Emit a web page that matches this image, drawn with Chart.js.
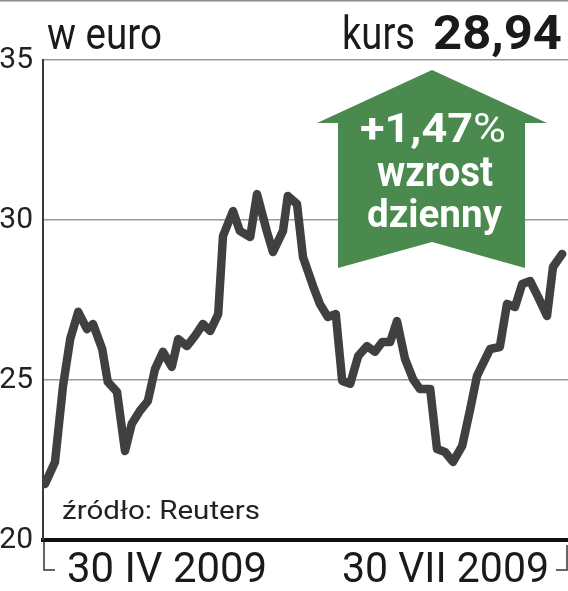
<!DOCTYPE html>
<html>
<head>
<meta charset="utf-8">
<script src="https://cdn.jsdelivr.net/npm/chart.js@4.4.1/dist/chart.umd.min.js"></script>
<style>
  html, body { margin: 0; padding: 0; background: #fff; }
  #wrap { position: relative; width: 568px; height: 591px; }
</style>
</head>
<body>
<div id="wrap"><canvas id="c" width="568" height="591"></canvas></div>
<script>
// ---- data ----
const days = [0.25, 1.5, 2.5, 3.4, 4.4, 5.5, 6.25, 7.4, 8.1, 9.25, 10.25, 11.1, 12.1, 13.1, 14, 15, 16.1, 16.9, 18, 19, 20, 20.9, 21.9, 22.5, 23.75, 24.6, 25.9, 26.75, 28, 28.75, 30, 30.6, 31.75, 32.5, 33.75, 34.6, 35.6, 36.6, 37.4, 38.4, 39.4, 40.5, 41.5, 42.4, 43.4, 44.25, 45.25, 46.25, 47.1, 48.4, 49.25, 50.25, 51.25, 52.4, 53.4, 54.25, 55.9, 57.1, 58, 59, 59.9, 60.9, 61.9, 63, 63.75, 64.9];
const prices = [21.75, 22.44, 24.81, 26.28, 27.13, 26.59, 26.75, 25.97, 24.94, 24.63, 22.78, 23.63, 24.03, 24.34, 25.34, 25.88, 25.41, 26.28, 26.06, 26.38, 26.75, 26.53, 27.06, 29.5, 30.28, 29.66, 29.47, 30.81, 29.63, 29.0, 29.66, 30.75, 30.5, 28.84, 27.94, 27.38, 26.97, 27.06, 24.97, 24.88, 25.75, 26.06, 25.88, 26.19, 26.19, 26.84, 25.66, 25.03, 24.72, 24.72, 22.84, 22.75, 22.44, 22.94, 24.09, 25.13, 25.97, 26.03, 27.38, 27.28, 28.0, 28.09, 27.59, 27.0, 28.53, 28.94];
const yTicks = [20, 25, 30, 35];
const xTickLabels = ['30 IV 2009', '30 VII 2009'];
const unitLabel = 'w euro';
const priceLabel = 'kurs';
const priceValue = '28,94';
const changeValue = '+1,47';
const changeLines = ['wzrost', 'dzienny'];
const sourceLabel = 'źródło: Reuters';

const points = days.map((d, i) => ({ x: d, y: prices[i] }));

function fitText(ctx, parts, x, y, width, align, color) {
  let total = 0;
  parts.forEach(p => { ctx.font = p.font; p.w = ctx.measureText(p.t).width; total += p.w; });
  const s = width / total;
  const x0 = align === 'center' ? x - width / 2 : (align === 'right' ? x - width : x);
  ctx.save();
  ctx.fillStyle = color;
  ctx.textAlign = 'left';
  ctx.textBaseline = 'alphabetic';
  ctx.translate(x0, y);
  ctx.scale(s, 1);
  let cx = 0;
  parts.forEach(p => { ctx.font = p.font; ctx.fillText(p.t, cx, 0); cx += p.w; });
  ctx.restore();
}

const decor = {
  id: 'decor',
  afterDatasetsDraw(chart) {
    const ctx = chart.ctx;
    // green arrow
    ctx.save();
    ctx.fillStyle = '#4a8a4e';
    ctx.beginPath();
    ctx.moveTo(317, 123);
    ctx.lineTo(432, 70);
    ctx.lineTo(547, 123);
    ctx.lineTo(525, 123);
    ctx.lineTo(525, 268);
    ctx.lineTo(432, 242);
    ctx.lineTo(338, 268);
    ctx.lineTo(338, 123);
    ctx.closePath();
    ctx.fill();
    ctx.restore();
    fitText(ctx, [{ t: changeValue, font: 'bold 40px Roboto' }, { t: '%', font: '40px Roboto' }], 433, 142, 146, 'center', '#fff');
    fitText(ctx, [{ t: changeLines[0], font: 'bold 43px Roboto' }], 435, 186, 116, 'center', '#fff');
    fitText(ctx, [{ t: changeLines[1], font: 'bold 38px Roboto' }], 434.5, 227, 135, 'center', '#fff');
  },
  afterDraw(chart) {
    const ctx = chart.ctx;
    const a = chart.chartArea;
    ctx.save();
    // top rule
    ctx.strokeStyle = '#8a8a8a';
    ctx.lineWidth = 1.5;
    ctx.beginPath(); ctx.moveTo(0, 0.75); ctx.lineTo(568, 0.75); ctx.stroke();
    // brackets under the axis
    ctx.strokeStyle = '#333';
    ctx.lineWidth = 1.5;
    ctx.beginPath();
    ctx.moveTo(a.left + 1, a.bottom + 2); ctx.lineTo(a.left + 1, a.bottom + 30); ctx.lineTo(a.left + 12, a.bottom + 30);
    ctx.stroke();
    ctx.beginPath();
    ctx.moveTo(a.right - 12, a.bottom + 30); ctx.lineTo(a.right - 1, a.bottom + 30); ctx.lineTo(a.right - 1, a.bottom + 5);
    ctx.stroke();
    ctx.restore();
    // header texts
    fitText(ctx, [{ t: unitLabel, font: '44px Roboto' }], 47, 49, 115, 'left', '#1a1a1a');
    fitText(ctx, [{ t: priceLabel, font: '47px Roboto' }], 342, 49, 73, 'left', '#1a1a1a');
    fitText(ctx, [{ t: priceValue, font: 'bold 48px Roboto' }], 433, 49, 129, 'left', '#1a1a1a');
    // source
    fitText(ctx, [{ t: sourceLabel, font: '25px Roboto' }], 62, 519, 198, 'left', '#222');
    // x labels
    fitText(ctx, [{ t: xTickLabels[0], font: '42px Roboto' }], a.left + 24, 582, 200, 'left', '#1a1a1a');
    fitText(ctx, [{ t: xTickLabels[1], font: '42px Roboto' }], a.right - 19, 582, 207, 'right', '#1a1a1a');
  }
};

new Chart(document.getElementById('c'), {
  type: 'line',
  data: {
    datasets: [{
      data: points,
      borderColor: '#404040',
      borderWidth: 8.5,
      borderJoinStyle: 'round',
      borderCapStyle: 'round',
      pointRadius: 0,
      tension: 0,
      fill: false
    }]
  },
  options: {
    responsive: false,
    animation: false,
    devicePixelRatio: 1,
    layout: { padding: { top: 60, bottom: 51, left: 0, right: 0 } },
    plugins: { legend: { display: false }, tooltip: { enabled: false }, title: { display: false } },
    scales: {
      x: {
        type: 'linear',
        min: 0,
        max: 65.625,
        grid: { display: false, drawTicks: false },
        ticks: { display: false },
        border: { display: true, color: '#111', width: 4 },
        afterFit: s => { s.height = 0; }
      },
      y: {
        min: 20,
        max: 35,
        afterBuildTicks: s => { s.ticks = yTicks.map(v => ({ value: v })); },
        grid: { color: '#9a9a9a', lineWidth: 1.5, drawTicks: false },
        border: { display: true, color: '#3a3a3a', width: 2 },
        ticks: {
          padding: 10,
          color: '#222',
          font: { family: 'Roboto', size: 30 },
          callback: v => String(v)
        },
        afterFit: s => { s.width = 43; }
      }
    }
  },
  plugins: [decor]
});
</script>
</body>
</html>
